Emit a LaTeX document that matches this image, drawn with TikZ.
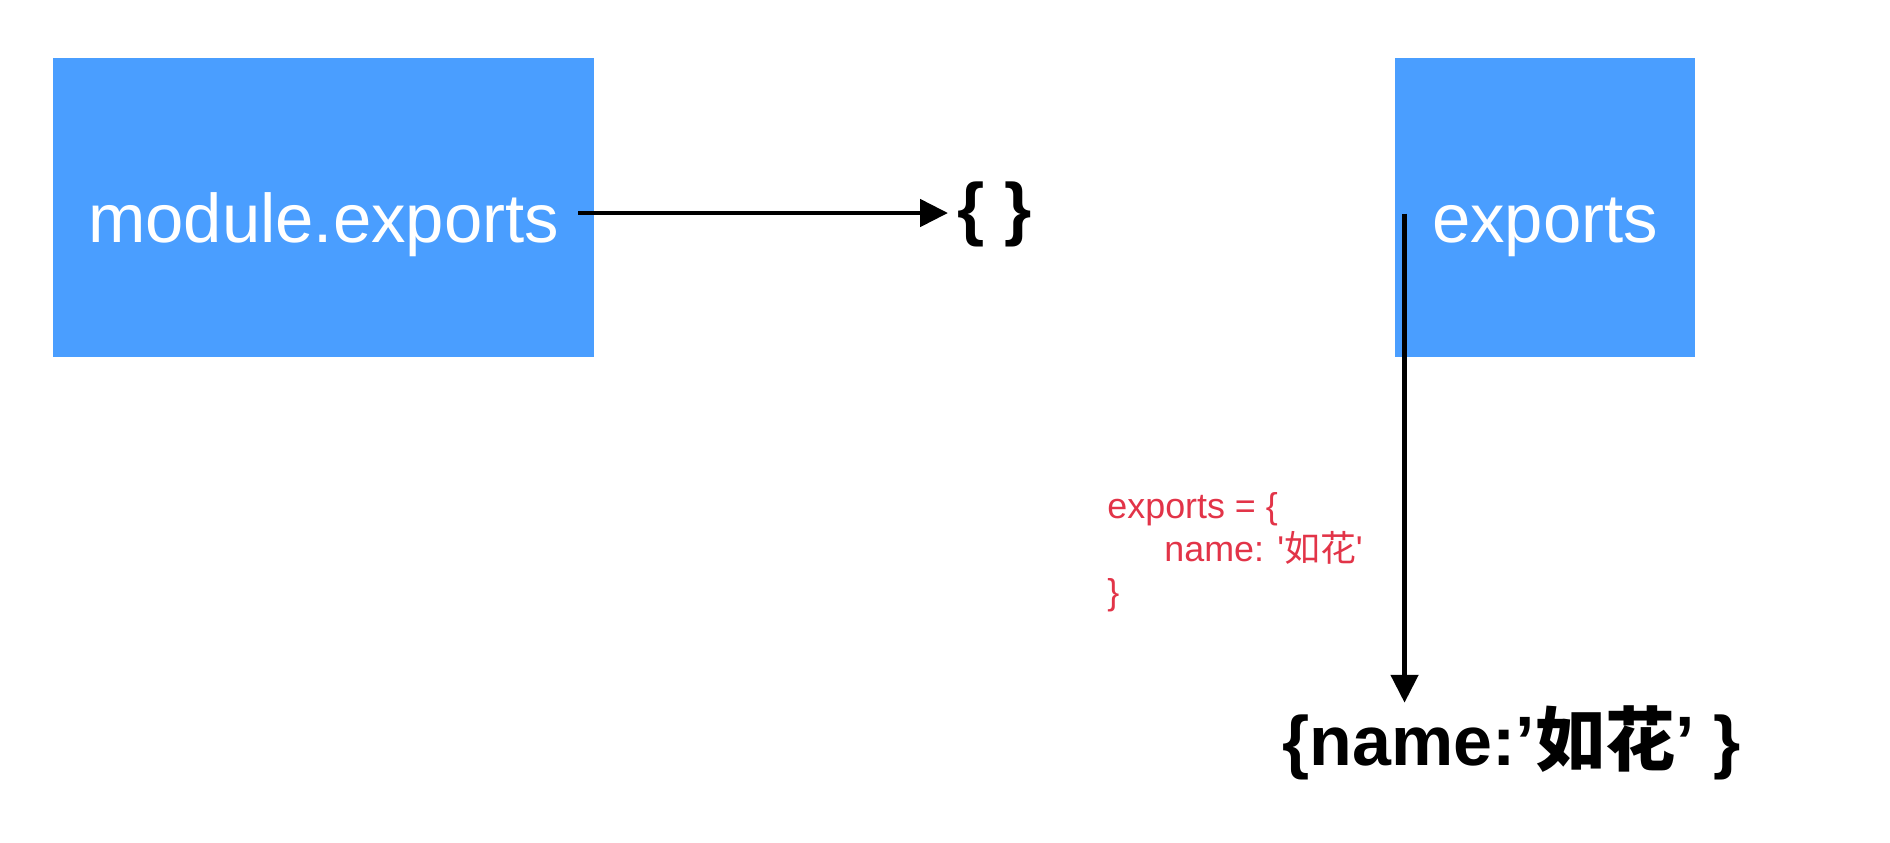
\documentclass[tikz,border=0pt]{standalone}
\usepackage{fontspec}
\setmainfont{Liberation Sans}
\newfontfamily\cjk{Noto Sans CJK SC}
\usepackage{tikz}
\usetikzlibrary{arrows.meta}

\definecolor{boxblue}{RGB}{74,158,255}
\definecolor{notered}{RGB}{226,52,72}

\begin{document}
\begin{tikzpicture}[line width=1.4pt, >={Triangle[length=0.28cm,width=0.27cm]}]
    \tikzstyle{var box}=[rectangle,fill=boxblue,text=white,minimum height=2.99cm,inner sep=0pt,text height=0.69cm,text depth=0cm,font=\fontsize{19.6}{23}\selectfont]
    \tikzstyle{obj}=[inner sep=0pt,font=\bfseries\fontsize{19.9}{24}\selectfont]
    \tikzstyle{note}=[inner sep=0pt,text=notered,align=left,font=\fontsize{10.2}{12.2}\selectfont]

    \useasboundingbox (0,0) rectangle (18.9,-8.42);

    % the two variables
    \node[var box, minimum width=5.41cm] (M) at (3.235,-2.075) {module.exports};
    \node[var box, minimum width=3.0cm] (E) at (15.45,-2.075) {exports};

    % what they point to
    \node[obj, anchor=base west] (O-1) at (9.55,-2.32) {\{ \}};
    \node[obj, anchor=base west] (O-2) at (12.80,-7.65) {\{name:’{\cjk 如花}’ \}};

    % the reassignment
    \node[note, anchor=base west] (N) at (11.05,-6.04)
        {exports = \{\\\hspace{0.57cm}name: \textquotesingle{\cjk 如花}\textquotesingle\\\}};

    \draw[->, shorten >=0.7mm] ([xshift=-1.8mm,yshift=-0.55mm]M.east) coordinate (M-s) -- (M-s -| O-1.west);
    \draw[->] ([xshift=1.2mm,yshift=-0.6mm]E.west) coordinate (E-s) -- (E-s |- O-2.north);
\end{tikzpicture}
\end{document}
